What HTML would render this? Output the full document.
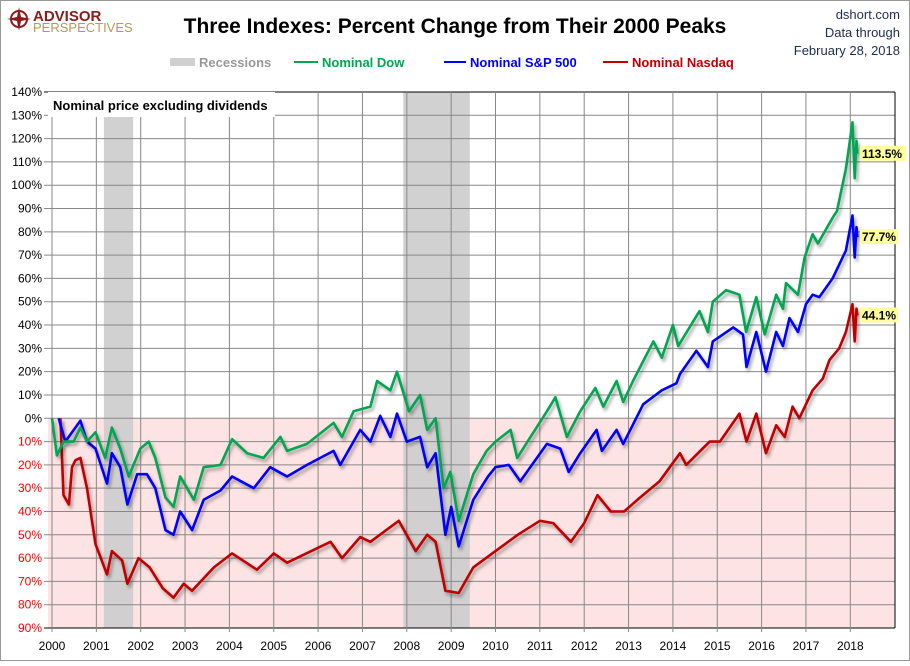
<!DOCTYPE html>
<html><head><meta charset="utf-8"><style>
body{margin:0;width:910px;height:661px;background:#fff;overflow:hidden;font-family:"Liberation Sans",sans-serif}
svg text{font-family:"Liberation Sans",sans-serif}
</style></head><body>
<svg id="chart" width="910" height="661" xmlns="http://www.w3.org/2000/svg">
<defs><filter id="sh" x="-5%" y="-5%" width="110%" height="110%"><feDropShadow dx="2" dy="3" stdDeviation="1.5" flood-color="#000" flood-opacity="0.35"/></filter></defs>
<rect x="0.5" y="0.5" width="909" height="660" fill="#fff" stroke="#999"/>
<g>
<circle cx="19" cy="19" r="8" fill="none" stroke="#8b1a1a" stroke-width="2"/>
<path d="M19 7 L21 17 L31 19 L21 21 L19 31 L17 21 L7 19 L17 17 Z" fill="#8b1a1a"/>
<text x="33" y="21" font-size="15" font-weight="bold" fill="#8b1a1a">ADVISOR</text>
<text x="33" y="32" font-size="13" fill="#b8975a">PERSPECTIVES</text>
</g>
<text x="455" y="33" font-size="21" font-weight="bold" text-anchor="middle" fill="#000">Three Indexes: Percent Change from Their 2000 Peaks</text>
<g font-size="13" fill="#1f2d4d" text-anchor="end">
<text x="900" y="19">dshort.com</text><text x="900" y="37">Data through</text><text x="900" y="55">February 28, 2018</text></g>
<g font-size="13" font-weight="bold">
<rect x="170" y="58" width="25" height="8" fill="#d0d0d0"/>
<text x="199" y="67" fill="#999">Recessions</text>
<line x1="294" y1="62" x2="318" y2="62" stroke="#00a651" stroke-width="2"/>
<text x="322" y="67" fill="#00a651">Nominal Dow</text>
<line x1="444" y1="62" x2="466" y2="62" stroke="#0000ff" stroke-width="2"/>
<text x="470" y="67" fill="#0000ff">Nominal S&amp;P 500</text>
<line x1="603" y1="62" x2="628" y2="62" stroke="#c00000" stroke-width="2"/>
<text x="632" y="67" fill="#c00000">Nominal Nasdaq</text>
</g>
<g id="plot"></g>
</svg>
<script>
const yTicks=[140,130,120,110,100,90,80,70,60,50,40,30,20,10,0,-10,-20,-30,-40,-50,-60,-70,-80,-90];
const years=[2000,2001,2002,2003,2004,2005,2006,2007,2008,2009,2010,2011,2012,2013,2014,2015,2016,2017,2018];
const recessions=[[2001.17,2001.83],[2007.92,2009.42]];
const dowT=[2000,2000.11,2000.26,2000.49,2000.64,2000.79,2000.98,2001.2,2001.35,2001.54,2001.73,2001.99,2002.18,2002.33,2002.56,2002.74,2002.89,2003.2,2003.42,2003.8,2004.06,2004.4,2004.77,2005.15,2005.3,2005.75,2006.35,2006.54,2006.8,2007.18,2007.33,2007.63,2007.78,2008.05,2008.3,2008.46,2008.65,2008.83,2008.98,2009.17,2009.5,2009.8,2010,2010.34,2010.49,2010.79,2011.16,2011.35,2011.61,2011.91,2012.25,2012.43,2012.73,2012.88,2013.1,2013.56,2013.75,2014,2014.12,2014.6,2014.79,2014.9,2015.2,2015.5,2015.65,2015.88,2016.07,2016.33,2016.48,2016.55,2016.82,2016.97,2017.15,2017.27,2017.6,2017.7,2017.9,2018.05,2018.1,2018.14,2018.16];
const dowV=[0,-16,-10,-10,-4,-10,-6,-17,-4,-13,-25,-13,-10,-17,-34,-38,-25,-35,-21,-20,-9,-15,-17,-8,-14,-11,-2,-8,3,5,16,12,20,3,10,-5,0,-30,-23,-44,-24,-14,-10,-5,-17,-8,3,9,-8,3,13,5,16,7,16,33,26,40,31,46,37,50,55,53,37,52,36,53,47,58,53,69,79,75,86,89,107,127,103,119,113.5];
const spT=[2000.15,2000.3,2000.64,2000.79,2000.98,2001.24,2001.35,2001.54,2001.7,2001.92,2002.14,2002.33,2002.56,2002.74,2002.89,2003.16,2003.42,2003.8,2004.06,2004.55,2004.92,2005.3,2005.75,2006.35,2006.5,2006.95,2007.18,2007.4,2007.63,2007.78,2008,2008.3,2008.46,2008.65,2008.87,2009,2009.17,2009.5,2009.83,2010,2010.3,2010.56,2011.16,2011.46,2011.65,2011.91,2012.28,2012.4,2012.73,2012.88,2013.33,2013.75,2014.08,2014.16,2014.53,2014.79,2014.9,2015.36,2015.58,2015.66,2015.88,2016.1,2016.33,2016.48,2016.63,2016.82,2017,2017.15,2017.3,2017.6,2017.9,2018.05,2018.1,2018.14,2018.16];
const spV=[0,-10,-1,-10,-13,-28,-15,-21,-37,-24,-24,-30,-48,-50,-40,-48,-35,-31,-25,-30,-21,-25,-20,-14,-20,-5,-10,1,-8,2,-10,-8,-21,-15,-50,-38,-55,-35,-25,-21,-20,-27,-11,-13,-23,-15,-5,-14,-5,-11,6,12,15,19,29,22,33,39,36,22,37,20,37,31,43,37,49,53,52,60,72,87,69,82,77.7];
const nqT=[2000.19,2000.26,2000.38,2000.45,2000.53,2000.64,2000.79,2000.98,2001.24,2001.35,2001.58,2001.7,2001.95,2002.2,2002.5,2002.74,2002.97,2003.16,2003.65,2004.06,2004.62,2005,2005.3,2006.28,2006.54,2006.95,2007.18,2007.82,2008.2,2008.46,2008.65,2008.87,2009.17,2009.5,2010,2010.5,2011,2011.3,2011.7,2012,2012.3,2012.6,2012.9,2013.2,2013.7,2014.16,2014.3,2014.83,2015.06,2015.5,2015.66,2015.88,2016.1,2016.33,2016.52,2016.7,2016.85,2017.15,2017.38,2017.53,2017.75,2017.9,2018.05,2018.1,2018.14,2018.16];
const nqV=[0,-33,-37,-21,-18,-17,-30,-54,-67,-57,-61,-71,-60,-64,-73,-77,-71,-74,-64,-58,-65,-58,-62,-53,-60,-51,-53,-44,-57,-50,-53,-74,-75,-64,-57,-50,-44,-45,-53,-45,-33,-40,-40,-35,-27,-15,-20,-10,-10,2,-10,2,-15,-3,-8,5,0,12,17,25,30,37,49,33,47,44.1];
const endLabels=["113.5%","77.7%","44.1%"];
const L=48,R=895,T=92,B=628;
const X=y=>52+(y-2000)*44.35;
const Y=v=>T+(140-v)*(B-T)/230;
const NS="http://www.w3.org/2000/svg";
const g=document.getElementById('plot');
function mk(tag,attrs){const e=document.createElementNS(NS,tag);for(const k in attrs)e.setAttribute(k,attrs[k]);g.appendChild(e);return e;}
let e=mk('rect',{x:L,y:Y(0),width:R-L,height:B-Y(0),fill:'#fde3e3'});


recessions.forEach(r=>{const b=mk('rect',{x:X(r[0]),y:T,width:X(r[1])-X(r[0]),height:B-T,fill:'#cccccc',opacity:0.9});

});
yTicks.forEach(v=>{const l=mk('line',{x1:L-4,x2:R,y1:Y(v),y2:Y(v),stroke:v===140||v===-90?'#000':'#888','stroke-width':1});


const t=mk('text',{x:42,y:Y(v)+4,'font-size':12,'text-anchor':'end',fill:v<0?'#ff0000':'#000'});t.textContent=Math.abs(v)+'%';

});
years.forEach(y=>{const l=mk('line',{x1:X(y),x2:X(y),y1:T,y2:B+4,stroke:'#888','stroke-width':1});


const t=mk('text',{x:X(y),y:650,'font-size':12,'text-anchor':'middle',fill:'#000'});t.textContent=y;

});
mk('line',{x1:R,x2:R,y1:T,y2:B,stroke:'#000'});
function series(ts,vs,col,name){const d=ts.map((t,i)=>(i?'L':'M')+X(t).toFixed(1)+' '+Y(vs[i]).toFixed(1)).join(' ');
const p=mk('path',{d:d,fill:'none',stroke:col,'stroke-width':2.6,'stroke-linejoin':'round',filter:'url(#sh)'});

}
series(nqT,nqV,'#c00000','nasdaq-line');
series(spT,spV,'#0000ff','sp500-line');
series(dowT,dowV,'#00a651','dow-line');
const ends=[[dowV[dowV.length-1]],[spV[spV.length-1]],[nqV[nqV.length-1]]];
ends.forEach((v,i)=>{const yy=Y(v[0]);
const r=mk('rect',{x:860,y:yy-8,width:i===0?46:38,height:15,fill:'#ffff99'});


const t=mk('text',{x:862,y:yy+4,'font-size':12,'font-weight':'bold',fill:'#000'});t.textContent=endLabels[i];

});
const nb=mk('rect',{x:L,y:T,width:227,height:25,fill:'#fff'});


const nt=mk('text',{x:53,y:110,'font-size':13,'font-weight':'bold',fill:'#000'});nt.textContent='Nominal price excluding dividends';


</script>
</body></html>
